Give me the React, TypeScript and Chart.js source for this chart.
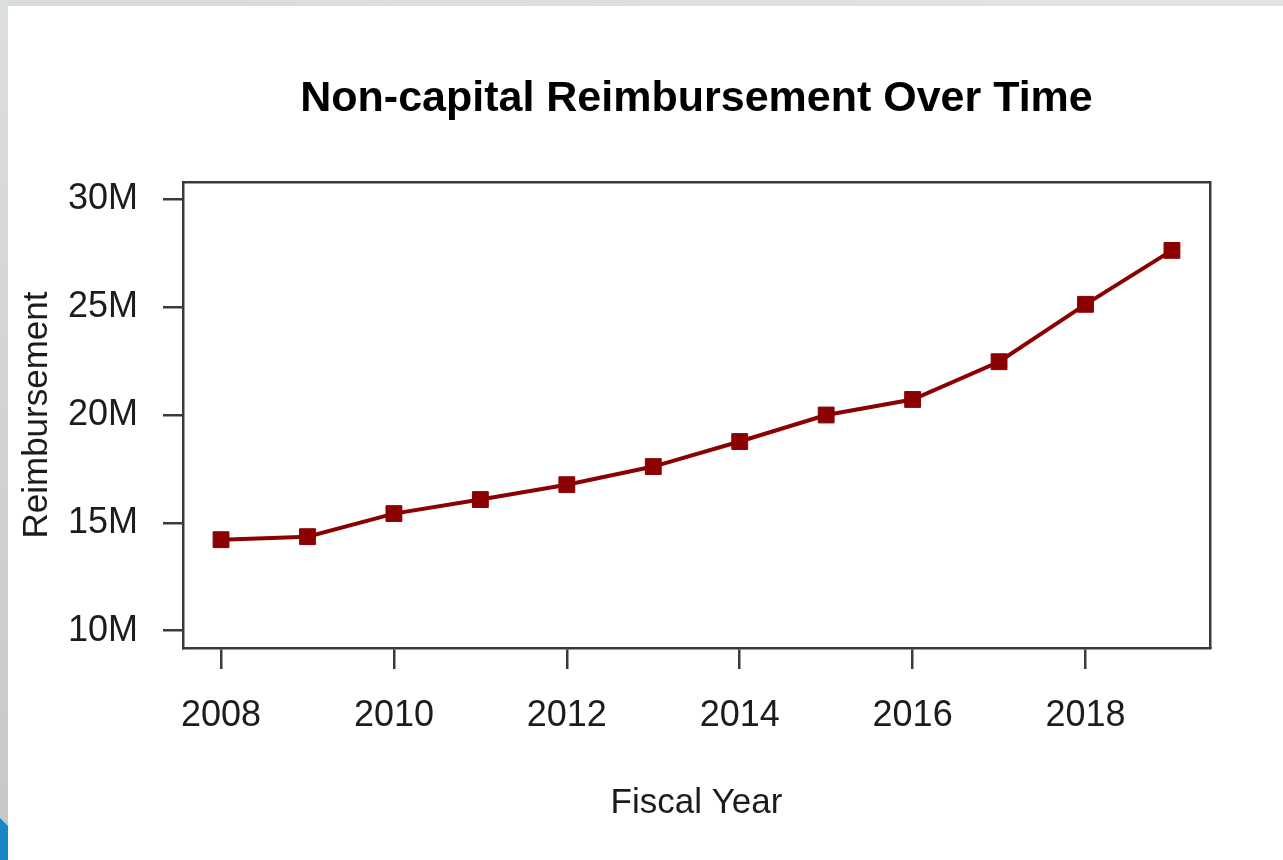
import React, { useEffect, useRef } from "react";
import { Chart, registerables } from "chart.js";

Chart.register(...registerables);

// ---- data ----
const years = [2008, 2009, 2010, 2011, 2012, 2013, 2014, 2015, 2016, 2017, 2018, 2019];
const reimbursementM = [14.22, 14.36, 15.43, 16.08, 16.77, 17.61, 18.77, 20.0, 20.72, 22.47, 25.13, 27.63];
const xTickYears = [2008, 2010, 2012, 2014, 2016, 2018];
const yTickValuesM = [10, 15, 20, 25, 30];
const chartTitle = "Non-capital Reimbursement Over Time";
const xTitle = "Fiscal Year";
const yTitle = "Reimbursement";

export default function App() {
  const ref = useRef<HTMLCanvasElement>(null);

  useEffect(() => {
    const canvas = ref.current;
    if (!canvas) return;
    const family = "'Liberation Sans', Arial, sans-serif";
    const axisColor = "#3a3a3a";
    const textColor = "#1c1c1c";
    const lineColor = "#8b0000";

    const hiddenGrid = { display: true, drawOnChartArea: false, drawTicks: false };
    const border = { display: true, color: axisColor, width: 2.5 };

    const chart = new Chart(canvas, {
      type: "line",
      data: {
        datasets: [
          {
            data: years.map((x, i) => ({ x, y: reimbursementM[i] })),
            borderColor: lineColor,
            backgroundColor: lineColor,
            borderWidth: 4,
            pointStyle: "rect",
            pointRadius: 11.2,
            pointBorderWidth: 1,
            pointBackgroundColor: lineColor,
            pointBorderColor: lineColor,
            tension: 0,
            fill: false,
          },
        ],
      },
      options: {
        responsive: false,
        animation: false,
        events: [],
        layout: { padding: 0 },
        plugins: {
          legend: { display: false },
          title: { display: false },
          tooltip: { enabled: false },
        },
        scales: {
          x: {
            type: "linear",
            position: "bottom",
            min: 2007.56,
            max: 2019.44,
            afterBuildTicks: (s: any) => {
              s.ticks = xTickYears.map((v) => ({ value: v }));
            },
            afterFit: (s: any) => {
              s.height = 212;
            },
            ticks: {
              callback: (v: any) => String(v),
              font: { family, size: 36 },
              color: textColor,
              padding: 25,
              maxRotation: 0,
              autoSkip: false,
            },
            grid: {
              display: true,
              drawOnChartArea: false,
              drawTicks: true,
              tickLength: 21,
              tickWidth: 2.5,
              tickColor: axisColor,
              lineWidth: 2.5,
              color: axisColor,
            },
            border,
            title: {
              display: true,
              text: xTitle,
              font: { family, size: 35 },
              color: textColor,
              padding: { top: 0, bottom: 36 },
            },
          },
          y: {
            type: "linear",
            position: "left",
            min: 9.2,
            max: 30.8,
            afterBuildTicks: (s: any) => {
              s.ticks = yTickValuesM.map((v) => ({ value: v }));
            },
            afterFit: (s: any) => {
              s.width = 183;
            },
            ticks: {
              callback: (v: any) => `${v}M`,
              font: { family, size: 36 },
              color: textColor,
              padding: 25,
            },
            grid: {
              display: true,
              drawOnChartArea: false,
              drawTicks: true,
              tickLength: 20,
              tickWidth: 2.5,
              tickColor: axisColor,
              lineWidth: 2.5,
              color: axisColor,
            },
            border,
            title: {
              display: true,
              text: yTitle,
              font: { family, size: 35 },
              color: textColor,
              padding: { top: 16.5, bottom: 0 },
            },
          },
          x2: {
            type: "linear",
            position: "top",
            min: 2007.56,
            max: 2019.44,
            afterFit: (s: any) => {
              s.height = 182;
            },
            ticks: { display: false },
            grid: hiddenGrid,
            border,
            title: {
              display: true,
              text: chartTitle,
              font: { family, size: 43, weight: "bold" },
              color: "#000000",
              padding: { top: 73, bottom: 0 },
            },
          },
          y2: {
            type: "linear",
            position: "right",
            min: 9.2,
            max: 30.8,
            afterFit: (s: any) => {
              s.width = 73;
            },
            ticks: { display: false },
            grid: hiddenGrid,
            border,
          },
        },
      } as any,
    });

    return () => {
      chart.destroy();
    };
  }, []);

  return (
    <div
      style={{
        position: "fixed",
        left: 0,
        top: 0,
        width: 1283,
        height: 860,
        background: "linear-gradient(to right, #d8dbdc, #e2e4e5)",
        overflow: "hidden",
      }}
    >
      <div
        style={{
          position: "absolute",
          left: 0,
          top: 0,
          width: 8,
          height: 860,
          background: "linear-gradient(to bottom, #dcdfe0, #c4c8c9)",
        }}
      />
      <div
        style={{
          position: "absolute",
          left: 0,
          top: 818,
          width: 8,
          height: 42,
          background: "#1787c8",
          clipPath: "polygon(0 0, 100% 8px, 100% 100%, 0 100%)",
        }}
      />
      <div
        style={{
          position: "absolute",
          left: 8,
          top: 6,
          right: 0,
          bottom: 0,
          background: "#ffffff",
        }}
      />
      <canvas
        ref={ref}
        width={1283}
        height={860}
        style={{ position: "absolute", left: 0, top: 0, width: 1283, height: 860 }}
      />
    </div>
  );
}
